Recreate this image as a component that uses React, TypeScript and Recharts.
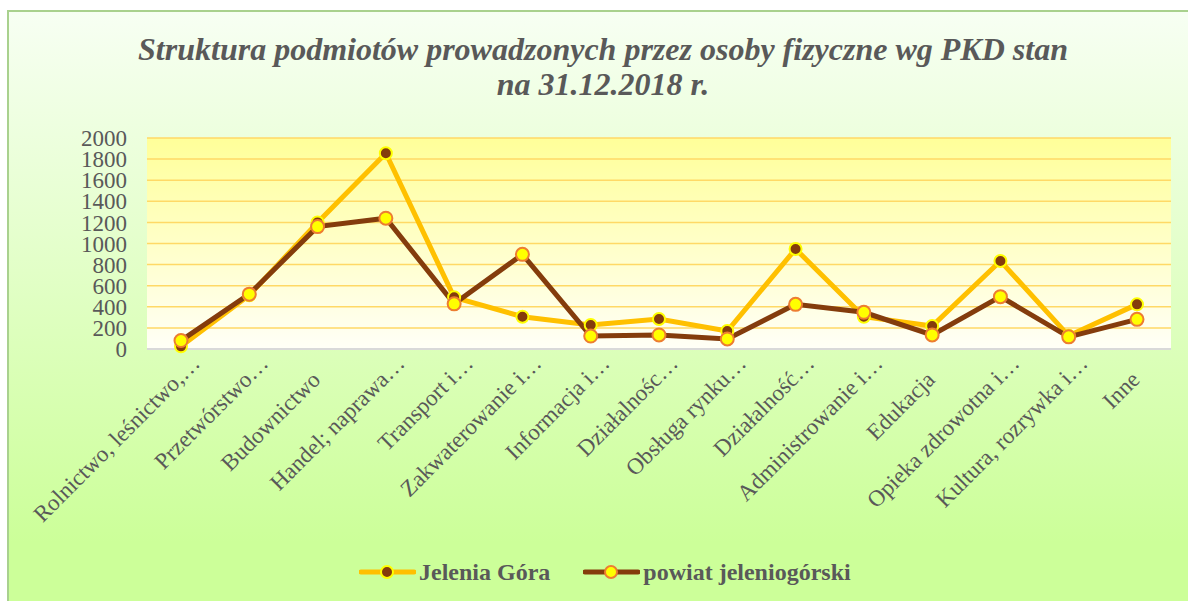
import React from 'react';
import { LineChart, Line, XAxis, YAxis, CartesianGrid } from 'recharts';

const categories = [
  'Rolnictwo, leśnictwo,…',
  'Przetwórstwo…',
  'Budownictwo',
  'Handel; naprawa…',
  'Transport i…',
  'Zakwaterowanie i…',
  'Informacja i…',
  'Działalnośc…',
  'Obsługa rynku…',
  'Działalność…',
  'Administrowanie i…',
  'Edukacja',
  'Opieka zdrowotna i…',
  'Kultura, rozrywka i…',
  'Inne',
];

const jeleniaGora = [25, 510, 1200, 1855, 490, 306, 227, 284, 170, 948, 306, 218, 834, 125, 423];
const powiat = [80, 520, 1160, 1240, 428, 897, 123, 133, 95, 423, 348, 133, 496, 115, 281];

const yTicks = [0, 200, 400, 600, 800, 1000, 1200, 1400, 1600, 1800, 2000];

const data = categories.map((name, i) => ({
  name,
  jg: jeleniaGora[i],
  pw: powiat[i],
}));

const FONT = '"Liberation Serif", "Times New Roman", serif';
const TEXT = '#595959';
const X_FONT = 23;

// excel keeps the anchor on the text before the ellipsis, the "…" hangs past it
const XTick = (props: any) => {
  const { x, y, payload } = props;
  const label: string = payload.value;
  const hang = label.endsWith('…') ? X_FONT : 0;
  return (
    <g transform={`translate(${x + 4},${y + 32})`}>
      <text
        transform="rotate(-45)"
        x={hang}
        textAnchor="end"
        fontFamily={FONT}
        fontSize={X_FONT}
        fill={TEXT}
      >
        {label}
      </text>
    </g>
  );
};

const JgDot = (props: any) => {
  const { cx, cy, index } = props;
  return <circle key={`jg-${index}`} cx={cx} cy={cy} r={6} fill="#843c0c" stroke="#ffff00" strokeWidth={2} />;
};

const PwDot = (props: any) => {
  const { cx, cy, index } = props;
  return <circle key={`pw-${index}`} cx={cx} cy={cy} r={6.5} fill="#ffff00" stroke="#ed7d31" strokeWidth={2} />;
};

const LegendItem = ({ line, fill, stroke, label }: { line: string; fill: string; stroke: string; label: string }) => (
  <div style={{ display: 'flex', alignItems: 'center' }}>
    <svg width={57} height={18}>
      <line x1={2} y1={9} x2={55} y2={9} stroke={line} strokeWidth={5} strokeLinecap="round" />
      <circle cx={28} cy={9} r={6} fill={fill} stroke={stroke} strokeWidth={2} />
    </svg>
    <span style={{ marginLeft: 3, fontFamily: FONT, fontWeight: 'bold', fontSize: 24, color: TEXT }}>{label}</span>
  </div>
);

export default function App() {
  return (
    <div>
      <div
        style={{
          position: 'absolute',
          left: 7,
          top: 10,
          width: 1181,
          height: 591,
          boxSizing: 'border-box',
          borderLeft: '2px solid #a9d18e',
          borderTop: '2px solid #a9d18e',
          background: 'linear-gradient(180deg, #f7fff3 0%, #ccff99 90%)',
        }}
      >
        <LineChart
          width={1179}
          height={589}
          data={data}
          margin={{ top: 126, right: 17, bottom: 192, left: 78 }}
        >
          <defs>
            <linearGradient id="plotBg" x1="0" y1="0" x2="0" y2="1">
              <stop offset="0%" stopColor="#ffff99" />
              <stop offset="100%" stopColor="#fffff7" />
            </linearGradient>
          </defs>
          <CartesianGrid
            vertical={false}
            stroke="#ffd966"
            strokeWidth={1.5}
            fill="url(#plotBg)"
            fillOpacity={1}
          />
          <XAxis
            dataKey="name"
            interval={0}
            height={60}
            padding={{ left: 34, right: 34 }}
            tickLine={false}
            tickSize={0}
            tickMargin={0}
            axisLine={{ stroke: '#d9d9d9', strokeWidth: 2 }}
            tick={<XTick />}
          />
          <YAxis
            width={60}
            domain={[0, 2000]}
            ticks={yTicks}
            interval={0}
            axisLine={false}
            tickLine={false}
            tickSize={0}
            tickMargin={20}
            tick={{ fontFamily: FONT, fontSize: 23, fill: TEXT }}
          />
          <Line
            dataKey="jg"
            name="Jelenia Góra"
            stroke="#ffc000"
            strokeWidth={5}
            dot={<JgDot />}
            activeDot={false}
            isAnimationActive={false}
          />
          <Line
            dataKey="pw"
            name="powiat jeleniogórski"
            stroke="#843c0c"
            strokeWidth={5}
            dot={<PwDot />}
            activeDot={false}
            isAnimationActive={false}
          />
        </LineChart>
      </div>
      <div
        style={{
          position: 'absolute',
          left: 0,
          top: 32,
          width: 1206,
          textAlign: 'center',
          fontFamily: FONT,
          fontWeight: 'bold',
          fontStyle: 'italic',
          fontSize: 32,
          lineHeight: '35px',
          color: TEXT,
        }}
      >
        Struktura podmiotów prowadzonych przez osoby fizyczne wg PKD stan
        <br />
        na 31.12.2018 r.
      </div>
      <div
        style={{
          position: 'absolute',
          left: 359,
          top: 558,
          height: 28,
          display: 'flex',
          alignItems: 'center',
          gap: 33,
        }}
      >
        <LegendItem line="#ffc000" fill="#843c0c" stroke="#ffff00" label="Jelenia Góra" />
        <LegendItem line="#843c0c" fill="#ffff00" stroke="#ed7d31" label="powiat jeleniogórski" />
      </div>
    </div>
  );
}
